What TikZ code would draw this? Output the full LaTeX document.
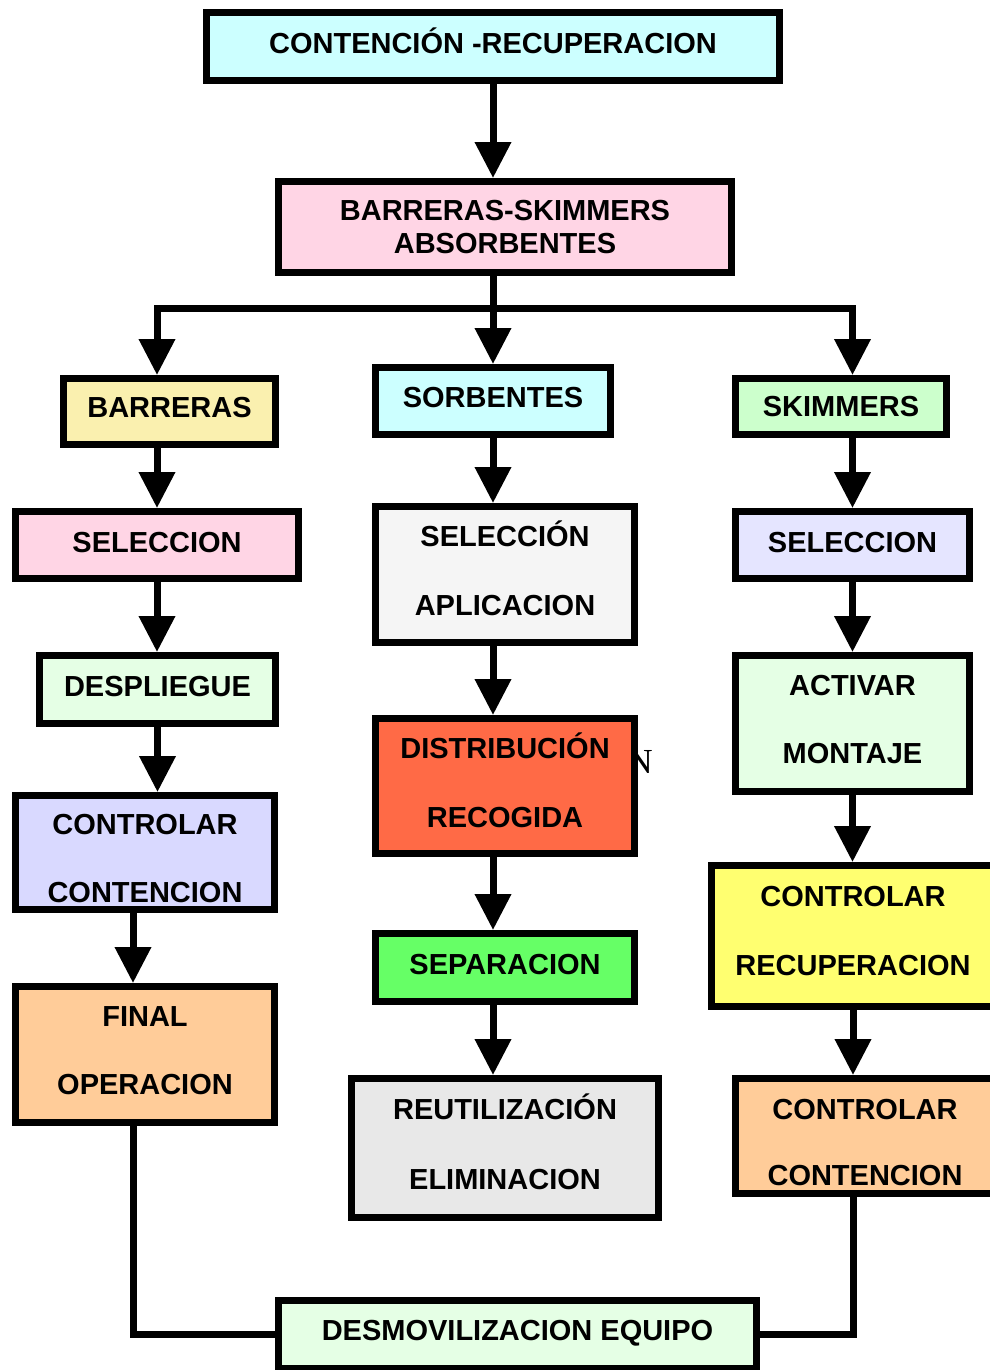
\documentclass[tikz,border=0pt]{standalone}
\usepackage{fontspec}
\setmainfont{Liberation Sans}
\newfontfamily\strayfont{Liberation Serif}
\usepackage{xcolor}
\usepackage{tikz}
\usetikzlibrary{arrows.meta,positioning,calc}
\definecolor{ocCyanL}   {RGB}{204,255,255}
\definecolor{ocPinkL}   {RGB}{255,213,229}
\definecolor{ocKhakiL}  {RGB}{250,240,175}
\definecolor{ocGreenL}  {RGB}{204,255,204}
\definecolor{ocMintL}   {RGB}{229,255,229}
\definecolor{ocLilacL}  {RGB}{217,217,255}
\definecolor{ocLilacLL} {RGB}{229,229,255}
\definecolor{ocPeach}   {RGB}{255,204,153}
\definecolor{ocWhiteG}  {RGB}{245,245,245}
\definecolor{ocGreyL}   {RGB}{232,232,232}
\definecolor{ocTomato}  {RGB}{255,106, 70}
\definecolor{ocGreen}   {RGB}{102,255,102}
\definecolor{ocYellow}  {RGB}{255,255,112}

\begin{document}
\begin{tikzpicture}[
  x=0.02cm, y=-0.02cm,
  every node/.style={font=\fontsize{16.5}{20}\selectfont\bfseries},
  box/.style ={draw=black,line width=0.14cm,align=center,inner sep=0pt,text depth=3.4pt},
  conn/.style={draw=black,line width=0.14cm},
  arr/.style ={conn,-{Triangle[length=0.72cm,width=0.7cm]}}
]
\useasboundingbox (0,0) rectangle (990,1370);

% top of the chart
\node[box,fill=ocCyanL,minimum width=11.46cm,minimum height=1.36cm,text depth=6.8pt] (top) at (493,46.5)
  {CONTENCIÓN -RECUPERACION};
\node[box,fill=ocPinkL,minimum width=9.06cm,minimum height=1.82cm,text depth=0pt] (bs) at (505,227)
  {BARRERAS-SKIMMERS\\[-1.2pt]ABSORBENTES};

% three branches
\node[box,fill=ocKhakiL,minimum width=4.24cm,minimum height=1.32cm,text depth=4.5pt] (bar) at (169.5,411.5) {BARRERAS};
\node[box,fill=ocCyanL,minimum width=4.70cm,minimum height=1.34cm,text depth=4.5pt] (sor) at (493,401) {SORBENTES};
\node[box,fill=ocGreenL,minimum width=4.22cm,minimum height=1.12cm,text depth=0pt] (skm) at (841,406.5) {SKIMMERS};

% barreras column
\node[box,fill=ocPinkL,minimum width=5.66cm,minimum height=1.34cm] (selL) at (157,545) {SELECCION};
\node[box,fill=ocMintL,minimum width=4.72cm,minimum height=1.36cm] (des) at (157.5,689.5) {DESPLIEGUE};
\node[box,fill=ocLilacL,minimum width=5.18cm,minimum height=2.28cm,text height=57pt,text depth=0pt] (ctlL) at (145,852.5)
  {CONTROLAR\\[19pt]CONTENCION};
\node[box,fill=ocPeach,minimum width=5.18cm,minimum height=2.72cm,text depth=4.5pt] (fin) at (145,1054.5)
  {FINAL\\[19pt]OPERACION};

% sorbentes column
\node[box,fill=ocWhiteG,minimum width=5.18cm,minimum height=2.72cm,text depth=7pt] (apl) at (505,574.5)
  {SELECCIÓN\\[19pt]APLICACION};
\node[font=\fontsize{20}{24}\selectfont\strayfont] (stray) at (640,762) {N};
\node[box,fill=ocTomato,minimum width=5.18cm,minimum height=2.70cm,text depth=6.8pt] (dis) at (505,786)
  {DISTRIBUCIÓN\\[19pt]RECOGIDA};
\node[box,fill=ocGreen,minimum width=5.18cm,minimum height=1.36cm] (sep) at (505,967.5) {SEPARACION};
\node[box,fill=ocGreyL,minimum width=6.14cm,minimum height=2.78cm,text depth=7pt] (reu) at (505,1148)
  {REUTILIZACIÓN\\[20pt]ELIMINACION};

% skimmers column
\node[box,fill=ocLilacLL,minimum width=4.68cm,minimum height=1.34cm] (selR) at (852.5,545) {SELECCION};
\node[box,fill=ocMintL,minimum width=4.68cm,minimum height=2.72cm,text depth=4.5pt] (act) at (852.5,723.5)
  {ACTIVAR\\[19pt]MONTAJE};
\node[box,fill=ocYellow,minimum width=5.66cm,minimum height=2.82cm,text depth=5.7pt] (ctlR) at (853,936)
  {CONTROLAR\\[19pt]RECUPERACION};
\node[box,fill=ocPeach,minimum width=5.18cm,minimum height=2.30cm,text height=56pt,text depth=0pt] (cnt) at (865,1136)
  {CONTROLAR\\[17.5pt]CONTENCION};

% end
\node[box,fill=ocMintL,minimum width=9.56cm,minimum height=1.36cm,text depth=5pt] (dsm) at (517.5,1334.5)
  {DESMOVILIZACION EQUIPO};

\coordinate (split) at (493,308);
\draw[arr] (top.south) -- (top.south |- bs.north);
\draw[conn] (bs.south -| top) -- (split);
\draw[arr] (split) -- (sor.north);
\draw[arr] (split) -| (bar.north -| selL);
\draw[arr] (split) -| (skm.north -| selR);

\draw[arr] (bar.south -| selL) -- (selL.north);
\draw[arr] (selL.south) -- (selL.south |- des.north);
\draw[arr] (des.south) -- (des.south |- ctlL.north);
\draw[arr] ([xshift=-0.24cm]ctlL.south) -- ([xshift=-0.24cm]fin.north);

\draw[arr] (sor.south) -- (sor.south |- apl.north);
\draw[arr] (apl.south -| sor) -- (dis.north -| sor);
\draw[arr] (dis.south -| sor) -- (sep.north -| sor);
\draw[arr] (sep.south -| sor) -- (reu.north -| sor);

\draw[arr] (skm.south -| selR) -- (selR.north);
\draw[arr] (selR.south) -- (act.north);
\draw[arr] (act.south) -- (act.south |- ctlR.north);
\draw[arr] (ctlR.south) -- (ctlR.south |- cnt.north);

\draw[conn] ([xshift=-0.24cm]fin.south) |- (dsm.west);
\draw[conn] (cnt.south -| ctlR) |- (dsm.east);
\end{tikzpicture}
\end{document}
